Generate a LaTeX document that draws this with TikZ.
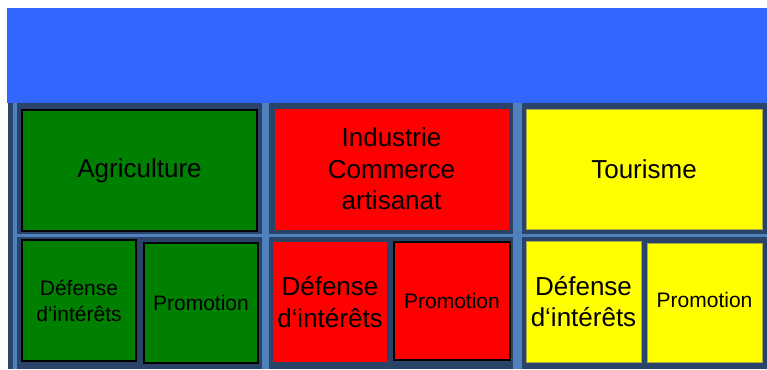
\documentclass[tikz,border=0pt]{standalone}
\usepackage{fontspec}
\setmainfont{Liberation Sans}
\definecolor{bandblue}{HTML}{3366FF}
\definecolor{navy}{HTML}{294468}
\definecolor{stripblue}{HTML}{4F81BD}
\definecolor{agrigreen}{HTML}{008000}
\definecolor{indred}{HTML}{FF0000}
\definecolor{touryellow}{HTML}{FFFF00}
\definecolor{yellowedge}{HTML}{A8A848}
\begin{document}
\begin{tikzpicture}[x=1pt,y=-1pt,
  box/.style={rectangle, inner sep=0pt, align=center},
  bigtext/.style={font=\fontsize{26}{31.6}\selectfont},
  smalltext/.style={font=\fontsize{21}{26}\selectfont},
  greenbox/.style={box, fill=agrigreen, draw=black, line width=2pt},
  redbox/.style={box, fill=indred},
  yellowbox/.style={box, fill=touryellow, draw=yellowedge, line width=0.8pt}]
  \useasboundingbox (0,0) rectangle (767,369);

  % Background and strips
  \fill[bandblue] (7,8) rectangle (767,103);
  \fill[navy] (8,103) rectangle (767,369);
  \fill[stripblue] (13,103) rectangle (17,369);
  \fill[stripblue] (262,103) rectangle (269,369);
  \fill[stripblue] (513,103) rectangle (522,369);
  \fill[stripblue] (17,234) rectangle (767,237);

  % Agriculture
  \node[greenbox, bigtext, minimum width=235, minimum height=121] (agri) at (139.5,170.5) {Agriculture};
  \node[greenbox, smalltext, minimum width=114, minimum height=121] (agridef) at (79,300.5) {Défense\\d‘intérêts};
  \node[greenbox, smalltext, minimum width=114, minimum height=120] (agripro) at (201,303) {Promotion};

  % Industrie Commerce artisanat
  \node[redbox, bigtext, draw=navy, line width=1pt, minimum width=235, minimum height=122] (indus) at (391.5,169) {Industrie\\Commerce\\artisanat};
  \node[redbox, bigtext, minimum width=114, minimum height=120] (indusdef) at (330,302) {Défense\\d‘intérêts};
  \node[redbox, smalltext, draw=black, line width=2pt, minimum width=116, minimum height=118] (induspro) at (452,301) {Promotion};

  % Tourisme
  \node[yellowbox, bigtext, minimum width=236, minimum height=120] (tour) at (644,169) {Tourisme};
  \node[yellowbox, bigtext, minimum width=115, minimum height=121] (tourdef) at (583.5,301.5) {Défense\\d‘intérêts};
  \node[yellowbox, smalltext, minimum width=115, minimum height=119] (tourpro) at (704.5,302.5) {\raisebox{5pt}{Promotion}};

\end{tikzpicture}
\end{document}
